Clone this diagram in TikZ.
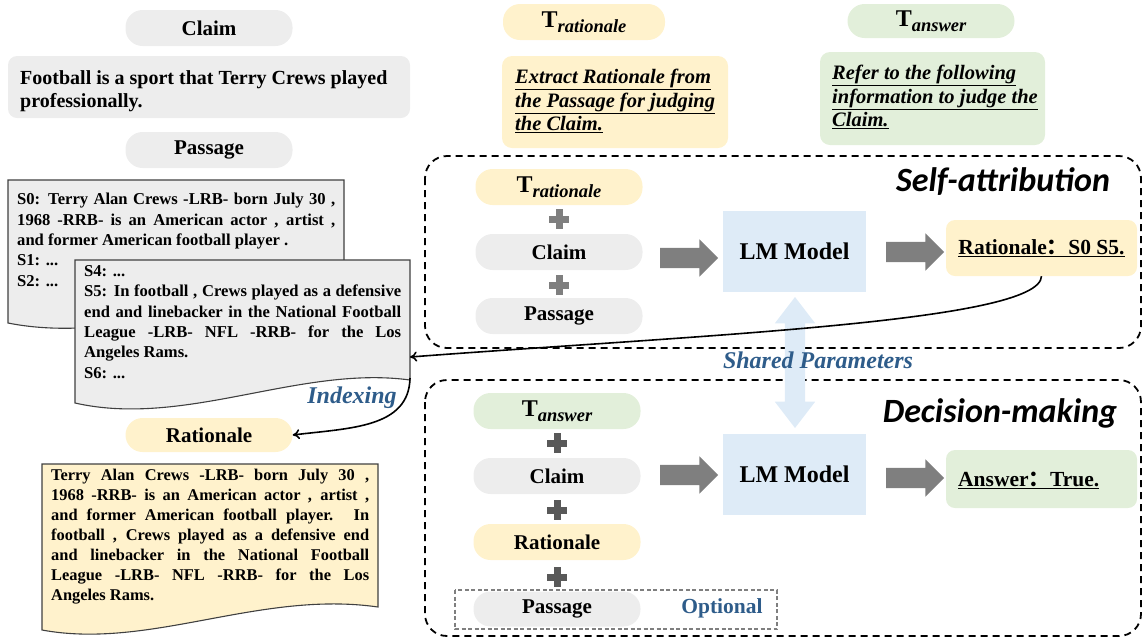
\documentclass[tikz,border=0pt]{standalone}
\usepackage{fontspec}
\setmainfont{Liberation Serif}
\newfontfamily\calib{Carlito}
\newfontfamily\cjk{Noto Sans CJK SC}
\usetikzlibrary{shapes.arrows,arrows.meta}
\definecolor{pgray}{HTML}{EDEDED}
\definecolor{pyel}{HTML}{FFF2CC}
\definecolor{pgrn}{HTML}{E2EFDA}
\definecolor{pblue}{HTML}{DEEBF7}
\definecolor{agray}{HTML}{7F7F7F}
\definecolor{plusa}{HTML}{7F7F7F}
\definecolor{plusb}{HTML}{595959}
\definecolor{tblue}{HTML}{2E5C8A}
\definecolor{dborder}{HTML}{404040}
\newcommand\fs[2]{\fontsize{#1}{#2}\selectfont}
\newcommand\Tsub[1]{{\fs{24}{26}T}\raisebox{-4.5pt}{\fs{18.5}{20}\itshape #1}}
\begin{document}
\begin{tikzpicture}[x=1pt,y=-1pt,
  pill/.style={rectangle,rounded corners=17pt,minimum width=167pt,minimum height=36pt,inner sep=0pt,font=\bfseries\fs{21}{24}},
  tpill/.style={pill},
  lm/.style={fill=pblue,minimum width=143pt,minimum height=81pt,inner sep=0pt,font=\bfseries\fs{24}{28}},
  bigarrow/.style={single arrow,fill=agray,minimum height=58pt,inner ysep=10pt,inner xsep=0pt,single arrow head extend=8.5pt,single arrow head indent=0pt},
  doc/.style={draw=dborder,line width=1.1pt},
  doctext/.style={anchor=north west,inner sep=0pt,align=left,font=\bfseries\fs{16.6}{20.4}},
  dashbox/.style={draw=black,line width=1.8pt,dash pattern=on 7pt off 5pt,rounded corners=22pt},
  hdr/.style={font=\calib\bfseries\itshape\fs{34}{38}},
  blu/.style={text=tblue,font=\bfseries\itshape\fs{24}{28}},
  conn/.style={line width=1.6pt,-{To[length=7pt,width=10pt]}},
  plusn/.style={inner sep=0pt,minimum size=20pt},
  inst/.style={anchor=north west,inner sep=0pt,align=left,font=\bfseries\itshape\fs{20.5}{23.5}},
]
\useasboundingbox (0,0) rectangle (1143,641);

% ---------- left column ----------
\node[pill,fill=pgray] (claimp) at (209,28) {Claim};
\node[fill=pgray,rounded corners=9pt,minimum width=402pt,minimum height=62pt] (claimbox) at (209,87) {};
\node[anchor=north west,inner sep=0pt,align=left,font=\bfseries\fs{20}{23}] (claimtxt) at (20,70)
  {Football is a sport that Terry Crews played\\professionally.};
\node[pill,fill=pgray] (passp) at (209,150) {Passage};

% document 1
\filldraw[doc,fill=pgray] (8,180) -- (344,180) -- (344,303) .. controls (235,290) and (118,345) .. (8,323) -- cycle;
\node[doctext] (d1txt) at (17,193) {%
\makebox[318pt][s]{S0: Terry Alan Crews -LRB- born July 30 ,}\\
\makebox[318pt][s]{1968 -RRB- is an American actor , artist ,}\\
and former American football player .\\
S1: ...\\
S2: ...};

% document 2
\filldraw[doc,fill=pgray] (75,260) -- (410,260) -- (410,380) .. controls (300,365) and (185,428) .. (75,403) -- cycle;
\node[doctext] (d2txt) at (84,265) {%
S4: ...\\
\makebox[317pt][s]{S5: In football , Crews played as a defensive}\\
\makebox[317pt][s]{end and linebacker in the National Football}\\
\makebox[317pt][s]{League -LRB- NFL -RRB- for the Los}\\
Angeles Rams.\\
S6: ...};
\coordinate (d2in) at (410,357);
\coordinate (d2out) at (410,378);

\node[blu] (idx) at (352,398) {Indexing};
\node[pill,fill=pyel,minimum height=34pt] (ratp) at (209,435) {Rationale};

% rationale document
\filldraw[doc,fill=pyel] (42,464) -- (378,464) -- (378,607) .. controls (260,590) and (150,650) .. (42,630) -- cycle;
\node[doctext,font=\bfseries\fs{16.4}{20}] (rtxt) at (51,469) {%
\makebox[318pt][s]{Terry Alan Crews -LRB- born July 30 ,}\\
\makebox[318pt][s]{1968 -RRB- is an American actor , artist ,}\\
\makebox[318pt][s]{and former American football player. In}\\
\makebox[318pt][s]{football , Crews played as a defensive end}\\
\makebox[318pt][s]{and linebacker in the National Football}\\
\makebox[318pt][s]{League -LRB- NFL -RRB- for the Los}\\
Angeles Rams.};

% ---------- top right ----------
\node[tpill,fill=pyel,minimum width=162pt] (trat) at (584,22) {\Tsub{rationale}};
\node[tpill,fill=pgrn,minimum height=34pt] (tans) at (931,21) {\Tsub{answer}};
\node[fill=pyel,rounded corners=10pt,minimum width=226pt,minimum height=92pt] (extract) at (615,102) {};
\node[inst] (extxt) at (515,69)
  {\underline{Extract Rationale from}\\\underline{the Passage for judging}\\\underline{the Claim.}};
\node[fill=pgrn,rounded corners=10pt,minimum width=225pt,minimum height=93pt] (refer) at (932.5,98.5) {};
\node[inst] (reftxt) at (832,65)
  {\underline{Refer to the following}\\\underline{information to judge the}\\\underline{Claim.}};

% ---------- self-attribution ----------
\draw[dashbox] (425,156) rectangle (1141,348);
\node[hdr] (selfh) at (1003,182) {Self-attribution};
\node[tpill,fill=pyel] (s1) at (559,187) {\Tsub{rationale}};
\node[pill,fill=pgray] (s2) at (559,252) {Claim};
\node[pill,fill=pgray] (s3) at (559,316) {Passage};
\node[plusn] (sp1) at (559,219) {};
\node[plusn] (sp2) at (559,285) {};
\foreach \p in {sp1,sp2}{
  \fill[plusa] ([xshift=-10pt,yshift=3.5pt]\p.center) rectangle ([xshift=10pt,yshift=-3.5pt]\p.center);
  \fill[plusa] ([xshift=-3.5pt,yshift=10pt]\p.center) rectangle ([xshift=3.5pt,yshift=-10pt]\p.center);
}
\node[bigarrow] (sa1) at (684,258) {};
\node[lm] (lm1) at (794.5,251.5) {LM Model};
\node[bigarrow] (sa2) at (910,252) {};
\node[fill=pyel,rounded corners=9pt,minimum width=191pt,minimum height=56pt,font=\bfseries\fs{21.5}{24}] (rs) at (1041.5,248)
  {\underline{Rationale{\cjk ：}S0 S5.}};

% ---------- decision-making ----------
\draw[dashbox] (425,380) rectangle (1141,636);
\node[hdr] (dech) at (1000,413) {Decision-making};
\node[tpill,fill=pgrn] (m1) at (557,411) {\Tsub{answer}};
\node[pill,fill=pgray] (m2) at (557,476) {Claim};
\node[pill,fill=pyel] (m3) at (557,542) {Rationale};
\node[pill,fill=pgray,minimum height=35pt] (m4) at (557,609) {Passage};
\node[plusn] (mp1) at (557,443) {};
\node[plusn] (mp2) at (557,510) {};
\node[plusn] (mp3) at (557,577) {};
\foreach \p in {mp1,mp2,mp3}{
  \fill[plusb] ([xshift=-10pt,yshift=3.5pt]\p.center) rectangle ([xshift=10pt,yshift=-3.5pt]\p.center);
  \fill[plusb] ([xshift=-3.5pt,yshift=10pt]\p.center) rectangle ([xshift=3.5pt,yshift=-10pt]\p.center);
}
\draw[draw=agray,line width=1.2pt,dash pattern=on 4pt off 2.5pt] (455,590) rectangle (777,629);
\node[text=tblue,font=\bfseries\fs{21.5}{24}] (opt) at (722,608) {Optional};
\node[bigarrow] (ma1) at (684,475) {};
\node[lm] (lm2) at (794.5,474.5) {LM Model};
\node[bigarrow] (ma2) at (910,478) {};
\node[fill=pgrn,rounded corners=9pt,minimum width=191pt,minimum height=58pt] (ans) at (1041.5,479) {};
\node[anchor=west,inner sep=0pt,font=\bfseries\fs{21.5}{24}] (anstxt) at (958,480) {\underline{Answer{\cjk ：}True.}};

% ---------- shared parameters ----------
\node[double arrow,fill=pblue,rotate=90,minimum height=131pt,inner ysep=10pt,inner xsep=0pt,double arrow head extend=10pt,double arrow head indent=0pt,double arrow tip angle=75] (shared) at (795,362.5) {};
\node[blu] (sharedl) at (818,360) {Shared Parameters};

% ---------- connectors ----------
\draw[conn] (rs.south) .. controls (1040,322) and (700,335) .. (d2in);
\draw[conn] (d2out) .. controls (409,428) and (350,428) .. (ratp.east);
\end{tikzpicture}
\end{document}
